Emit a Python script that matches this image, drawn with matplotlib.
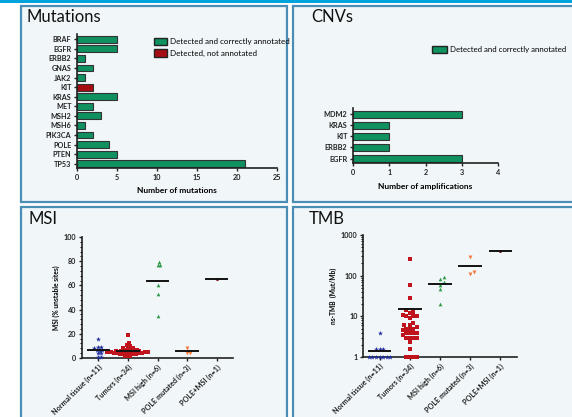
import numpy as np
import matplotlib
matplotlib.use('Agg')
import matplotlib.pyplot as plt
from matplotlib.patches import Rectangle, Patch
from matplotlib.ticker import MultipleLocator, LogLocator, NullFormatter

plt.rcParams['font.family'] = ['Lato', 'DejaVu Sans']

# 데이터
mut_genes = ['BRAF', 'EGFR', 'ERBB2', 'GNAS', 'JAK2', 'KIT', 'KRAS', 'MET',
             'MSH2', 'MSH6', 'PIK3CA', 'POLE', 'PTEN', 'TP53']
mut_counts = [5, 5, 1, 2, 1, 2, 5, 2, 3, 1, 2, 4, 5, 21]
mut_annotated = [True, True, True, True, True, False, True, True,
                 True, True, True, True, True, True]

cnv_genes = ['MDM2', 'KRAS', 'KIT', 'ERBB2', 'EGFR']
cnv_counts = [3, 1, 1, 1, 3]

groups = ['Normal tissue (n=11)', 'Tumors (n=34)', 'MSI high (n=6)',
          'POLE mutated (n=3)', 'POLE+MSI (n=1)']

msi_normal = [16, 9, 9, 8, 7, 7, 6, 4, 4, 1, 1]
msi_tumors = [19, 12, 11, 10, 9, 8, 8, 7, 7, 7, 6, 6, 6, 6, 5, 5, 5, 5, 5,
              4, 4, 4, 4, 4, 3, 3, 3, 3, 2, 2, 2, 6, 5, 4]
msi_high = [77, 77, 79, 60, 53, 35]
msi_pole = [8, 4, 4.5]
msi_pole_msi = [65]

tmb_normal = [4, 1.6, 1.6, 1.6, 1, 1, 1, 1, 1, 1, 1]
tmb_tumors = [260, 58, 28, 14, 13, 12, 11, 10, 10, 10, 9, 7, 6, 6, 5.5, 5, 5,
              4.5, 4, 4, 4, 3.8, 3.5, 3, 3, 3, 3, 2.3, 1.6, 1, 1, 1, 1, 4.8]
tmb_high = [95, 85, 70, 60, 48, 20]
tmb_pole = [290, 120, 110]
tmb_pole_msi = [400]

GREEN = '#0f9160'
RED = '#a50d12'
BORDER = '#4a8db5'
BG = '#f1f6f9'
grp_colors = ['#1b2a9c', '#c0141c', '#2e9a48', '#f4793b', '#8b1a2b']
grp_markers = ['*', 's', '^', 'v', 'o']
grp_sizes = [14, 7, 7, 8, 5]

W, H = 572, 417
fig = plt.figure(figsize=(W / 100, H / 100), dpi=100)
fig.patch.set_facecolor('white')


def fx(px):
    return px / W


def fy(py):
    return 1 - py / H


# 상단 선
fig.patches.append(Rectangle((0, fy(2.5)), 1, 2.5 / H, transform=fig.transFigure,
                             facecolor='#00a3dc', edgecolor='none', zorder=-2))
# 패널 박스
for (x0, y0, x1, y1) in [(21, 6, 287, 202), (293, 6, 580, 202),
                         (21, 207, 287, 425), (293, 207, 580, 425)]:
    fig.patches.append(Rectangle((fx(x0), fy(y1)), fx(x1 - x0), (y1 - y0) / H,
                                 transform=fig.transFigure, facecolor=BG,
                                 edgecolor=BORDER, linewidth=1.6, zorder=-2))

title_kw = dict(fontsize=12, color='#111111', va='center', ha='left')
fig.text(fx(26), fy(17), 'Mutations', **title_kw)
fig.text(fx(311), fy(17), 'CNVs', **title_kw)
fig.text(fx(28), fy(219), 'MSI', **title_kw)
fig.text(fx(309), fy(219), 'TMB', **title_kw)


def style_axes(ax):
    ax.set_facecolor('none')
    for s in ['top', 'right']:
        ax.spines[s].set_visible(False)
    for s in ['left', 'bottom']:
        ax.spines[s].set_linewidth(1.2)
        ax.spines[s].set_color('#222222')
    ax.tick_params(labelsize=5.2, width=1, length=2.5, pad=1.5, colors='#222222')
    for lab in ax.get_xticklabels() + ax.get_yticklabels():
        lab.set_fontweight('bold')


# Mutations
ax1 = fig.add_axes([fx(77), fy(168), fx(200), 134 / H])
ypos = np.arange(len(mut_genes))
cols = [GREEN if a else RED for a in mut_annotated]
ax1.barh(ypos, mut_counts, height=0.72, color=cols, edgecolor='#333333', linewidth=0.8)
ax1.set_yticks(ypos)
ax1.set_yticklabels(mut_genes)
ax1.set_ylim(13.45, -0.55)
ax1.set_xlim(0, 25)
ax1.set_xticks([0, 5, 10, 15, 20, 25])
ax1.set_xlabel('Number of mutations', fontsize=6, fontweight='bold', labelpad=5)
style_axes(ax1)
ax1.legend(handles=[Patch(facecolor=GREEN, edgecolor='#222222', label='Detected and correctly annotated'),
                    Patch(facecolor=RED, edgecolor='#222222', label='Detected, not annotated')],
           loc='upper left', bbox_to_anchor=(fx(150), fy(34)), bbox_transform=fig.transFigure,
           frameon=False, fontsize=5.8, handlelength=1.6, handleheight=1.0,
           handletextpad=0.35, labelspacing=0.5, borderpad=0)

# CNVs
ax2 = fig.add_axes([fx(353), fy(163), fx(145), 55 / H])
cpos = np.arange(len(cnv_genes))
ax2.barh(cpos, cnv_counts, height=0.65, color=GREEN, edgecolor='#333333', linewidth=0.8)
ax2.set_yticks(cpos)
ax2.set_yticklabels(cnv_genes)
ax2.set_ylim(4.4, -0.55)
ax2.set_xlim(0, 4)
ax2.set_xticks([0, 1, 2, 3, 4])
ax2.set_xlabel('Number of amplifications', fontsize=6, fontweight='bold', labelpad=5)
style_axes(ax2)
ax2.legend(handles=[Patch(facecolor=GREEN, edgecolor='#222222', label='Detected and correctly annotated')],
           loc='upper left', bbox_to_anchor=(fx(428), fy(42)), bbox_transform=fig.transFigure,
           frameon=False, fontsize=5.7, handlelength=1.9, handleheight=1.0,
           handletextpad=0.35, borderpad=0)


def beeswarm(vals, px_per_unit, tf, d, px_per_cat):
    # 겹치지 않게 점을 좌우로 배치 (픽셀 단위)
    ys = tf(np.asarray(vals, dtype=float)) * px_per_unit
    order = np.argsort(ys)
    placed = []
    offs = np.zeros(len(vals))
    cands = [0.0]
    for s in range(1, 40):
        cands += [s * d * 0.5, -s * d * 0.5]
    for i in order:
        for c in cands:
            if all((c - px) ** 2 + (ys[i] - py) ** 2 >= d * d for px, py in placed):
                break
        placed.append((c, ys[i]))
        offs[i] = c / px_per_cat
    return offs


def dot_plot(ax, data, px_per_unit, tf, d):
    for k, vals in enumerate(data):
        offs = beeswarm(vals, px_per_unit, tf, d, 30.0)
        ax.scatter(k + offs, vals, s=grp_sizes[k], marker=grp_markers[k],
                   color=grp_colors[k], linewidths=0, zorder=3, clip_on=False)
        m = np.mean(vals)
        ax.plot([k - 0.36, k + 0.36], [m, m], color='#111111', lw=1.4, zorder=4)
    ax.set_xticks(range(len(groups)))
    ax.set_xticklabels(groups, rotation=45, ha='right', rotation_mode='anchor')
    ax.set_xlim(-0.55, 4.55)
    style_axes(ax)


# MSI
ax3 = fig.add_axes([fx(82), fy(358), fx(151), 121 / H])
dot_plot(ax3, [msi_normal, msi_tumors, msi_high, msi_pole, msi_pole_msi],
         1.21, lambda v: v, 2.6)
ax3.set_ylim(0, 100)
ax3.yaxis.set_major_locator(MultipleLocator(20))
ax3.yaxis.set_minor_locator(MultipleLocator(4))
ax3.tick_params(axis='y', which='minor', length=1.5, width=0.7)
ax3.set_ylabel('MSI (% unstable sites)', fontsize=4.8, fontweight='bold', labelpad=3)

# TMB
ax4 = fig.add_axes([fx(363), fy(357), fx(154), 122 / H])
ax4.set_yscale('log')
dot_plot(ax4, [tmb_normal, tmb_tumors, tmb_high, tmb_pole, tmb_pole_msi],
         40.7, np.log10, 3.6)
ax4.set_ylim(1, 1000)
ax4.set_yticks([1, 10, 100, 1000])
ax4.set_yticklabels(['1', '10', '100', '1000'], fontweight='bold')
ax4.yaxis.set_minor_locator(LogLocator(subs=np.arange(2, 10)))
ax4.yaxis.set_minor_formatter(NullFormatter())
ax4.tick_params(axis='y', which='minor', length=1.5, width=0.7)
ax4.set_ylabel('ns-TMB  (Mut/Mb)', fontsize=4.8, fontweight='bold', labelpad=3)

fig.savefig('out.png', dpi=100)
